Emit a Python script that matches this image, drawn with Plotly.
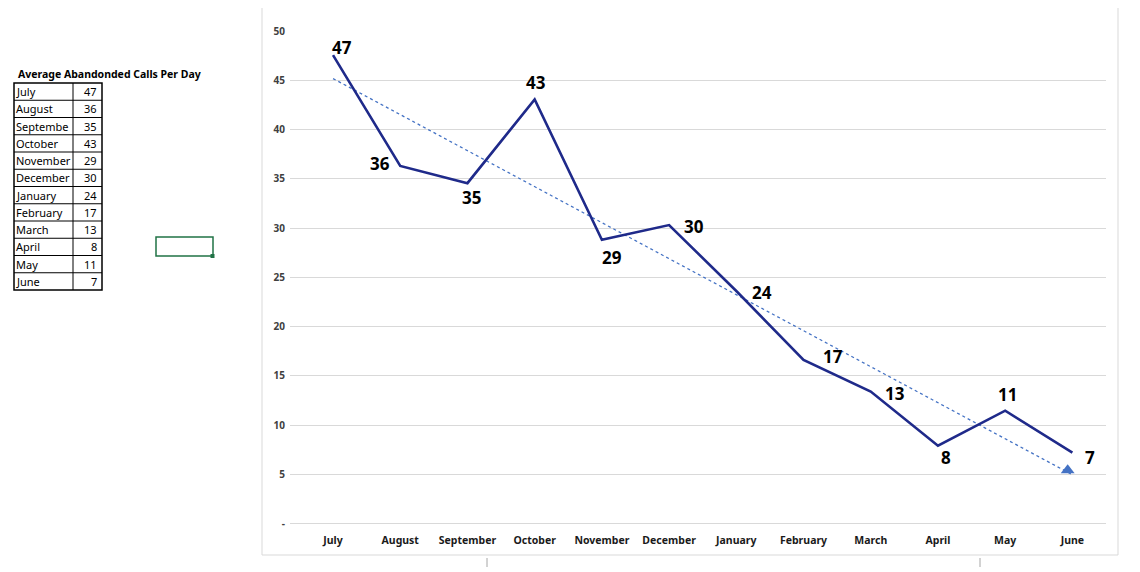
import numpy as np
import plotly.graph_objects as go

# Values; the labels show the rounded table values
months = ["July", "August", "September", "October", "November", "December",
          "January", "February", "March", "April", "May", "June"]
calls = [47.55, 36.3, 34.55, 43.05, 28.8, 30.3, 23.6, 16.6, 13.4, 7.9, 11.45, 7.2]
table_calls = [47, 36, 35, 43, 29, 30, 24, 17, 13, 8, 11, 7]
y_ticks = [0, 5, 10, 15, 20, 25, 30, 35, 40, 45, 50]
y_ticktext = ["-" if v == 0 else str(v) for v in y_ticks]

# where each data label sits relative to its point (pixels, +y is up)
label_offsets = [(9, 8), (-20, 2), (4, -14), (1, 17), (10, -18), (25, -1),
                 (26, -1), (29, 3), (24, -2), (8, -12), (2, 16), (18, -5)]

W, H = 1140, 572
PAGE_MARGIN = 8  # body margin of the html page


def px(x):
    return (x - PAGE_MARGIN) / W


def py(y):
    return 1 - (y - PAGE_MARGIN) / H


x = np.arange(len(months))
slope, icpt = np.polyfit(x, calls, 1)
trend = slope * x + icpt

fig = go.Figure()

# linear trendline with arrow-head at the end
fig.add_trace(go.Scatter(
    x=x, y=trend, mode="lines",
    line=dict(color="#4472C4", width=1.3, dash="dot"),
    hoverinfo="skip", showlegend=False,
))
fig.add_trace(go.Scatter(
    x=[x[-1] - 0.07], y=[trend[-1] + 0.45], mode="markers",
    marker=dict(symbol="triangle-up", size=12, color="#4472C4"),
    hoverinfo="skip", showlegend=False,
))

fig.add_trace(go.Scatter(
    x=x, y=calls, mode="lines",
    line=dict(color="#1F2A8A", width=2.6),
    showlegend=False,
))

annotations = []
for i, (m, v) in enumerate(zip(months, table_calls)):
    dx, dy = label_offsets[i]
    annotations.append(dict(
        x=x[i], y=calls[i], xref="x", yref="y", text=str(v), showarrow=False,
        xshift=dx, yshift=dy,
        font=dict(family="Open Sans", size=17, color="black", weight="bold"),
    ))

# the worksheet table on the left
annotations.append(dict(
    text="<b>Average Abandonded Calls Per Day</b>", xref="paper", yref="paper",
    x=px(16), y=py(74), xanchor="left", yanchor="middle", showarrow=False,
    font=dict(family="Noto Sans", size=10.5, color="black"),
))
row_top, row_h = 83, 17.25
shapes = []
for i, (m, v) in enumerate(zip(months, table_calls)):
    yc = row_top + row_h * (i + 0.5)
    # the worksheet cell is too narrow for "September", Excel cuts it off
    cell_text = m if len(m) <= 8 else m[:8]
    annotations.append(dict(
        text=cell_text, xref="paper", yref="paper", x=px(15), y=py(yc),
        xanchor="left", yanchor="middle", align="left", borderpad=0,
        showarrow=False, font=dict(family="Noto Sans", size=11, color="black"),
    ))
    annotations.append(dict(
        text=str(v), xref="paper", yref="paper", x=px(99), y=py(yc),
        xanchor="right", yanchor="middle", showarrow=False,
        font=dict(family="Noto Sans", size=11, color="black"),
    ))
    if i > 0:
        shapes.append(dict(type="line", xref="paper", yref="paper",
                           x0=px(14), x1=px(102), y0=py(row_top + row_h * i),
                           y1=py(row_top + row_h * i),
                           line=dict(color="black", width=1)))
table_bottom = row_top + row_h * len(months)
shapes += [
    dict(type="rect", xref="paper", yref="paper", x0=px(14), x1=px(102),
         y0=py(table_bottom), y1=py(row_top), line=dict(color="black", width=1.5)),
    dict(type="line", xref="paper", yref="paper", x0=px(73), x1=px(73),
         y0=py(table_bottom), y1=py(row_top), line=dict(color="black", width=1)),
    # selected cell
    dict(type="rect", xref="paper", yref="paper", x0=px(156), x1=px(213),
         y0=py(256), y1=py(237), line=dict(color="#217346", width=1.5)),
    dict(type="rect", xref="paper", yref="paper", x0=px(210.5), x1=px(214.5),
         y0=py(258), y1=py(254), line=dict(width=0), fillcolor="#217346"),
    # chart area border
    dict(type="rect", xref="paper", yref="paper", x0=px(262), x1=px(1118),
         y0=py(555), y1=py(-5), line=dict(color="#D9D9D9", width=1)),
    # page break marks
    dict(type="line", xref="paper", yref="paper", x0=px(487), x1=px(487),
         y0=py(558), y1=py(575), line=dict(color="#A6A6A6", width=1, dash="dash")),
    dict(type="line", xref="paper", yref="paper", x0=px(980), x1=px(980),
         y0=py(558), y1=py(575), line=dict(color="#A6A6A6", width=1, dash="dash")),
]

fig.update_layout(
    width=W, height=H,
    margin=dict(l=0, r=0, t=0, b=0),
    paper_bgcolor="white", plot_bgcolor="white",
    shapes=shapes,
    annotations=annotations,
    xaxis=dict(
        domain=[px(290), px(1106)], range=[-0.64, 11.5],
        tickvals=list(x), ticktext=months,
        tickfont=dict(family="Noto Sans", size=10.5, color="#1a1a1a", weight="bold"),
        showgrid=False, zeroline=False, showline=False, ticks="",
        ticklabelstandoff=9, automargin=False,
    ),
    yaxis=dict(
        domain=[py(523.5), py(31)], range=[0, 50],
        tickvals=y_ticks, ticktext=y_ticktext,
        tickfont=dict(family="Noto Sans", size=10, color="#404040", weight="bold"),
        showgrid=True, gridcolor="#D9D9D9", gridwidth=1,
        zeroline=True, zerolinecolor="#D9D9D9", zerolinewidth=1,
        showline=False, ticks="", ticklabelstandoff=4, automargin=False,
    ),
)

fig.write_html("out.html")
